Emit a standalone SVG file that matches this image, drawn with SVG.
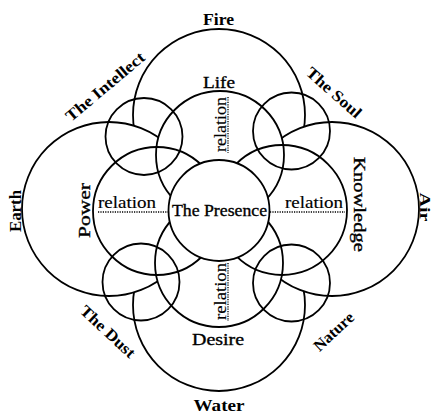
<svg xmlns="http://www.w3.org/2000/svg" width="432" height="416" viewBox="0 0 432 416">
<style>
.big{fill:#fff;stroke:#000;stroke-width:1.8}
.midfill{fill:#fff;stroke:none}
.mid{fill:none;stroke:#000;stroke-width:1.8}
.ctr{fill:#fff;stroke:#000;stroke-width:1.8}
.small{fill:none;stroke:#000;stroke-width:1.8}
.lb{font-family:"Liberation Serif",serif;font-weight:bold;font-size:17px;fill:#000}
.ls{font-family:"Liberation Serif",serif;font-weight:bold;font-size:16px;fill:#000}
.lm{font-family:"Liberation Serif",serif;font-size:17px;fill:#000;stroke:#000;stroke-width:0.35}
.rel{font-family:"Liberation Serif",serif;font-size:16px;fill:#000;stroke:#000;stroke-width:0.15}
.dot{fill:none;stroke:#000;stroke-width:1.3;stroke-dasharray:1.2 1.2}
</style>
<rect width="432" height="416" fill="#fff"/>
<g id="fire">
<circle class="big" cx="219" cy="115" r="86"/>
<text class="lb" x="218.5" y="25" text-anchor="middle" textLength="31" lengthAdjust="spacingAndGlyphs">Fire</text>
</g>
<g id="water">
<circle class="big" cx="219" cy="305" r="86"/>
<text class="lb" x="219" y="411" text-anchor="middle" textLength="51" lengthAdjust="spacingAndGlyphs">Water</text>
</g>
<g id="earth">
<circle class="big" cx="109" cy="209" r="87"/>
<text class="lb" transform="translate(21,211) rotate(-90)" text-anchor="middle" textLength="42" lengthAdjust="spacingAndGlyphs">Earth</text>
</g>
<g id="air">
<circle class="big" cx="332" cy="209" r="87"/>
<text class="lb" style="font-size:14px" transform="translate(419.5,207) rotate(90)" text-anchor="middle" textLength="29" lengthAdjust="spacingAndGlyphs">Air</text>
</g>
<g id="medium-backing">
<circle class="midfill" cx="220" cy="155" r="64"/>
<circle class="midfill" cx="157" cy="211" r="64"/>
<circle class="midfill" cx="219" cy="263" r="64"/>
<circle class="midfill" cx="282" cy="210" r="65"/>
</g>
<g id="life">
<circle class="mid" cx="220" cy="155" r="64"/>
<text class="lm" x="219" y="88" text-anchor="middle" textLength="32" lengthAdjust="spacingAndGlyphs">Life</text>
</g>
<g id="power">
<circle class="mid" cx="157" cy="211" r="64"/>
<text class="lm" transform="translate(90,210.5) rotate(-90)" text-anchor="middle" textLength="55" lengthAdjust="spacingAndGlyphs">Power</text>
</g>
<g id="desire">
<circle class="mid" cx="219" cy="263" r="64"/>
<text class="lm" x="218" y="345" text-anchor="middle" textLength="52" lengthAdjust="spacingAndGlyphs">Desire</text>
</g>
<g id="knowledge">
<circle class="mid" cx="282" cy="210" r="65"/>
<text class="lm" transform="translate(354,204.5) rotate(90)" text-anchor="middle" textLength="95" lengthAdjust="spacingAndGlyphs">Knowledge</text>
</g>
<g id="presence">
<circle class="ctr" cx="219" cy="210.5" r="50.5"/>
<text class="lm" x="219.5" y="216" text-anchor="middle" textLength="95" lengthAdjust="spacingAndGlyphs">The Presence</text>
</g>
<g id="intellect">
<circle class="small" cx="144" cy="136.5" r="38.5"/>
<text class="ls" transform="translate(108.5,90.7) rotate(-40)" text-anchor="middle" textLength="98" lengthAdjust="spacingAndGlyphs">The Intellect</text>
</g>
<g id="soul">
<circle class="small" cx="291.5" cy="131" r="38.5"/>
<text class="ls" transform="translate(330.4,96.6) rotate(41.5)" text-anchor="middle" textLength="68" lengthAdjust="spacingAndGlyphs">The Soul</text>
</g>
<g id="dust">
<circle class="small" cx="141" cy="282" r="38.5"/>
<text class="ls" transform="translate(104.2,335.5) rotate(43)" text-anchor="middle" textLength="69" lengthAdjust="spacingAndGlyphs">The Dust</text>
</g>
<g id="nature">
<circle class="small" cx="291.5" cy="283" r="38.5"/>
<text class="ls" transform="translate(337.3,335.5) rotate(-43)" text-anchor="middle" textLength="49" lengthAdjust="spacingAndGlyphs">Nature</text>
</g>
<g id="connectors">
<line class="dot" x1="98" y1="212" x2="168" y2="212"/>
<line class="dot" x1="270" y1="212" x2="345" y2="212"/>
<line class="dot" x1="228" y1="97" x2="228" y2="153"/>
<line class="dot" x1="228" y1="263" x2="228" y2="321"/>
<text class="rel" x="98" y="208" textLength="58" lengthAdjust="spacingAndGlyphs">relation</text>
<text class="rel" x="285" y="208" textLength="58" lengthAdjust="spacingAndGlyphs">relation</text>
<text class="rel" transform="translate(226,124.5) rotate(-90)" text-anchor="middle" textLength="55" lengthAdjust="spacingAndGlyphs">relation</text>
<text class="rel" transform="translate(226,291.5) rotate(-90)" text-anchor="middle" textLength="57" lengthAdjust="spacingAndGlyphs">relation</text>
</g>
</svg>
